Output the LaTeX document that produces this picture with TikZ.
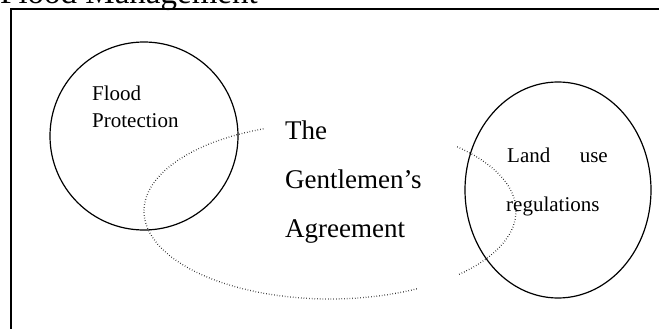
\documentclass[tikz,border=0pt]{standalone}
\usepackage{fontspec}
\setmainfont{Liberation Serif}
\usetikzlibrary{positioning}

\begin{document}
\begin{tikzpicture}[x=1pt, y=-1pt,
  % === Shape styles ===
  ring/.style={draw, line width=1.2pt, circle, inner sep=0pt},
  frame/.style={draw, line width=1.6pt},
  dots/.style={line width=1.3pt, dash pattern=on 0.5pt off 2.2pt},
  % === Label styles ===
  title/.style={font=\fontsize{33}{35}\selectfont, inner sep=0pt, anchor=base west},
  small/.style={font=\fontsize{21}{27}\selectfont, inner sep=0pt, anchor=base west, align=left},
  big/.style={font=\fontsize{27}{49}\selectfont, inner sep=0pt, anchor=base west, align=left},
]

% =============================================
% Canvas
% =============================================
\useasboundingbox (0,0) rectangle (659,329);
\clip (0,0) rectangle (659,329);

% Outer frame (runs off the right and bottom)
\draw[frame] (11,9) rectangle (680,360);

% Title
\node[title] (ttl) at (0,4) {Flood Management};

% =============================================
% The two circles
% =============================================
\node[ring, minimum width=188pt] (flood) at (144,136) {};
\coordinate (land) at (558,190);
\draw[line width=1.2pt] (land) ellipse [x radius=93, y radius=108];

% last line of a multi-line node sits on its base
\node[small] (fp) at (92,127) {Flood\\Protection};
\node[small] (lu1) at (507,162) {Land};
\node[small, anchor=base east] (lu2) at (608,162) {use};
\node[small] (lu3) at (506,211) {regulations};

% =============================================
% Dotted ellipse (open on the right)
% =============================================
\coordinate (gent) at (330,211);
\draw[dots] ([shift={(-111:186 and 88)}]gent) arc[start angle=-111, end angle=-298, x radius=186, y radius=88];
\draw[dots] ([shift={(46:186 and 88)}]gent) arc[start angle=46, end angle=-47, x radius=186, y radius=88];

\node[big] (ga) at (285,237) {The\\Gentlemen’s\\Agreement};

\end{tikzpicture}
\end{document}
